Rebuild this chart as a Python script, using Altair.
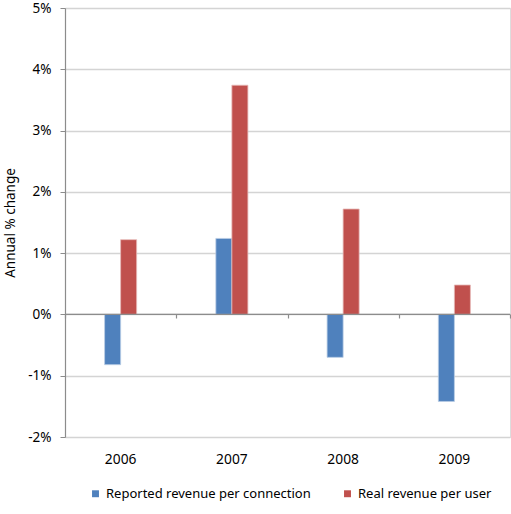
import altair as alt
import pandas as pd

# Annual % change by year for the two revenue measures
years = ["2006", "2007", "2008", "2009"]
reported_per_connection = [-0.82, 1.24, -0.70, -1.42]
real_per_user = [1.22, 3.74, 1.72, 0.48]
series_names = ["Reported revenue per connection", "Real revenue per user"]
series_colors = ["#4F81BD", "#C0504D"]

rows = []
for i, yr in enumerate(years):
    rows.append({"year": yr, "series": series_names[0], "value": reported_per_connection[i]})
    rows.append({"year": yr, "series": series_names[1], "value": real_per_user[i]})
df = pd.DataFrame(rows)

FONT = "Noto Sans"
AXIS_GRAY = "#8C8C8C"
GRID_GRAY = "#D4D4D4"

# Bars: each year's pair of bars is about 29% of its category band
bar_x_scale = alt.Scale(domain=years, paddingInner=0.712, paddingOuter=0.356)
# Category separators: bands with no padding so ticks fall between years
sep_x_scale = alt.Scale(domain=years, paddingInner=0, paddingOuter=0)
y_scale = alt.Scale(domain=[-2, 5], nice=False)

bars = alt.Chart(df).mark_bar(strokeWidth=0.8).encode(
    x=alt.X("year:N", scale=bar_x_scale, sort=years,
            axis=alt.Axis(title=None, orient="bottom", domain=False, ticks=False,
                          labelAngle=0, labelPadding=15, labelFontSize=13.8,
                          labelFont=FONT, labelColor="#000")),
    xOffset=alt.XOffset("series:N", sort=series_names,
                        scale=alt.Scale(paddingInner=0, paddingOuter=0)),
    y=alt.Y("value:Q", scale=y_scale,
            axis=alt.Axis(title="Annual % change", values=[-2, -1, 0, 1, 2, 3, 4, 5],
                          labelExpr="datum.value + '%'", grid=True,
                          gridColor=GRID_GRAY, gridWidth=1.5,
                          domainColor=AXIS_GRAY, domainWidth=1.2,
                          tickColor=AXIS_GRAY, tickSize=5, labelPadding=9,
                          labelFontSize=13.5, labelFont=FONT, labelColor="#000",
                          titleFont=FONT, titleFontSize=13.5, titleFontWeight="normal",
                          titleColor="#000", titlePadding=10)),
    color=alt.Color("series:N", sort=series_names,
                    scale=alt.Scale(domain=series_names, range=series_colors),
                    legend=alt.Legend(title=None, orient="none", direction="horizontal",
                                      legendX=24, legendY=479,
                                      symbolType="square", symbolSize=48,
                                      symbolStrokeWidth=0, labelFont=FONT,
                                      labelFontSize=13, labelColor="#000",
                                      labelOffset=4, labelLimit=400,
                                      columnPadding=30)),
    stroke=alt.Stroke("series:N", sort=series_names,
                      scale=alt.Scale(domain=series_names, range=["#B9CDE5", "#E6B9B8"]),
                      legend=None),
)

# Horizontal axis line at zero
zero_line = alt.Chart(pd.DataFrame({"v": [0]})).mark_rule(
    color=AXIS_GRAY, strokeWidth=1.2
).encode(y=alt.Y("v:Q", scale=y_scale))

# Tick marks between the year categories, hanging from the zero line
separators = alt.Chart(df).mark_bar(opacity=0).encode(
    x=alt.X("year:N", scale=sep_x_scale, sort=years,
            axis=alt.Axis(title=None, orient="bottom", labels=False, domain=False,
                          ticks=True, tickBand="extent", tickColor=AXIS_GRAY,
                          tickSize=4, tickWidth=1.2, offset=-123)),
    y=alt.Y("value:Q", scale=y_scale),
)

chart = alt.layer(bars, zero_line, separators).resolve_scale(
    x="independent"
).resolve_axis(x="independent").properties(
    width=445,
    height=429,
    autosize=alt.AutoSizeParams(type="none"),
    padding={"left": 65, "top": 8, "right": 1, "bottom": 77},
).configure_view(stroke=None).configure(background="white")

chart.save("out.html", embed_options={"renderer": "svg", "actions": False})
